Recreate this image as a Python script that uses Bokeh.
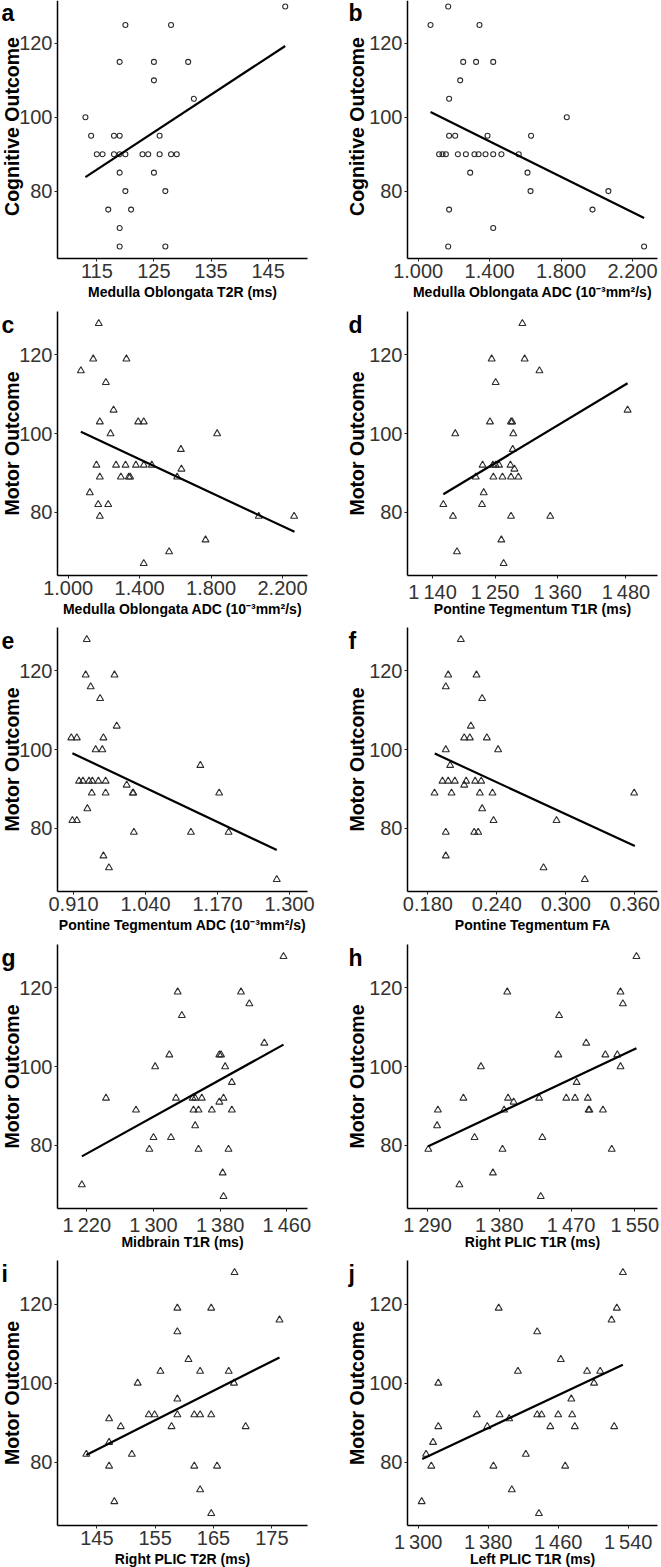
import math
from bokeh.plotting import figure
from bokeh.layouts import column, row
from bokeh.models import Range1d, FixedTicker, Label
from bokeh.embed import file_html
from bokeh.resources import INLINE

# ---------------- data ----------------
letters = ["a", "b", "c", "d", "e", "f", "g", "h", "i", "j"]

x_titles = [
    "Medulla Oblongata T2R (ms)",
    "Medulla Oblongata ADC (10\u207b\u00b3mm\u00b2/s)",
    "Medulla Oblongata ADC (10\u207b\u00b3mm\u00b2/s)",
    "Pontine Tegmentum T1R (ms)",
    "Pontine Tegmentum ADC (10\u207b\u00b3mm\u00b2/s)",
    "Pontine Tegmentum FA",
    "Midbrain T1R (ms)",
    "Right PLIC T1R (ms)",
    "Right PLIC T2R (ms)",
    "Left PLIC T1R (ms)",
]
y_titles = ["Cognitive Outcome", "Cognitive Outcome"] + ["Motor Outcome"] * 8

a_x = [148, 120, 128, 119, 125, 131, 125, 132, 113, 114, 118, 119, 126, 115, 116, 118,
       119, 120, 123, 124, 126, 128, 129, 119, 125, 120, 127, 117, 121, 119, 119, 127]
a_y = [130, 125, 125, 115, 115, 115, 110, 105, 100, 95, 95, 95, 95, 90, 90, 90,
       90, 90, 90, 90, 90, 90, 90, 85, 85, 80, 80, 75, 75, 70, 65, 65]

b_x = [1.168, 1.069, 1.343, 1.252, 1.324, 1.420, 1.235, 1.173, 1.832, 1.173, 1.207,
       1.388, 1.632, 1.117, 1.136, 1.155, 1.222, 1.267, 1.315, 1.338, 1.377, 1.420,
       1.466, 1.563, 1.291, 1.612, 1.629, 2.065, 1.173, 1.976, 1.420, 1.168, 2.265]
b_y = [130, 125, 125, 115, 115, 115, 110, 105, 100, 95, 95, 95, 95, 90, 90, 90, 90,
       90, 90, 90, 90, 90, 90, 90, 85, 85, 80, 80, 75, 75, 70, 65, 65]

motor_y = [128, 119, 119, 116, 113, 106, 103, 103, 103, 100, 100, 96, 92, 92, 92, 92,
           92, 92, 91, 89, 89, 89, 89, 89, 85, 82, 82, 79, 79, 79, 73, 70, 67]

c_x = [1.171, 1.140, 1.326, 1.071, 1.211, 1.254, 1.177, 1.392, 1.423, 1.237, 1.834,
       1.631, 1.158, 1.268, 1.321, 1.379, 1.423, 1.468, 1.634, 1.177, 1.295, 1.339,
       1.347, 1.610, 1.121, 1.168, 1.224, 1.177, 2.067, 2.265, 1.769, 1.565, 1.423]
c_y = motor_y

d_x = [1298, 1244, 1302, 1328, 1251, 1241, 1278, 1280, 1180, 1282, 1281, 1228, 1246,
       1251, 1257, 1277, 1284, 1216, 1247, 1263, 1278, 1291, 1230, 1159, 1227, 1176,
       1278, 1347, 1261, 1183, 1265, 1483]
d_y = [128, 119, 119, 116, 113, 103, 103, 103, 100, 100, 96, 92, 92, 92, 92, 92, 91,
       89, 89, 89, 89, 89, 85, 82, 82, 79, 79, 79, 73, 70, 67, 106]

e_x = [0.934, 0.932, 0.984, 0.941, 0.958, 0.988, 0.906, 0.916, 0.964, 0.950, 0.962,
       1.139, 0.920, 0.927, 0.938, 0.944, 0.955, 0.968, 1.006, 0.943, 0.968, 1.017,
       1.018, 1.173, 0.935, 0.908, 0.916, 1.019, 1.122, 1.190, 0.964, 0.974, 1.277]
e_y = motor_y

f_x = [0.2087, 0.1977, 0.2223, 0.1956, 0.2272, 0.2174, 0.2116, 0.2165, 0.2313, 0.1956,
       0.2411, 0.1994, 0.1927, 0.1977, 0.2035, 0.2133, 0.2211, 0.2264, 0.2116, 0.1858,
       0.2006, 0.2252, 0.2362, 0.3594, 0.2272, 0.2371, 0.2919, 0.1956, 0.2203, 0.2238,
       0.1956, 0.2806, 0.3165]
f_y = motor_y

g_x = [1456, 1329, 1405, 1415, 1334, 1433, 1319, 1379, 1381, 1302, 1386, 1394, 1243,
       1327, 1347, 1350, 1358, 1384, 1379, 1279, 1348, 1354, 1370, 1394, 1350, 1300,
       1321, 1295, 1354, 1390, 1383, 1214, 1384]
g_y = motor_y

h_x = [1552, 1390, 1532, 1535, 1455, 1489, 1454, 1513, 1528, 1357, 1532, 1477, 1335,
       1391, 1430, 1464, 1475, 1491, 1398, 1303, 1386, 1492, 1493, 1510, 1302, 1349,
       1434, 1291, 1384, 1521, 1372, 1330, 1432]
h_y = motor_y

i_x = [168.6, 158.8, 164.6, 176.3, 158.8, 160.7, 155.9, 162.7, 167.6, 152.0, 168.5,
       158.8, 153.9, 154.9, 158.8, 161.7, 162.7, 164.6, 147.1, 149.1, 157.8, 170.5,
       147.1, 143.2, 151.0, 147.1, 161.7, 165.6, 162.7, 148.0, 164.6]
i_y = [128, 119, 119, 116, 113, 106, 103, 103, 103, 100, 100, 96, 92, 92, 92, 92, 92,
       92, 91, 89, 89, 89, 85, 82, 82, 79, 79, 79, 73, 70, 67]

j_x = [1534, 1392, 1527, 1521, 1436, 1463, 1414, 1493, 1508, 1323, 1501, 1475, 1367,
       1393, 1436, 1441, 1460, 1476, 1404, 1323, 1379, 1451, 1479, 1524, 1317, 1309,
       1423, 1315, 1386, 1468, 1407, 1304, 1438]
j_y = motor_y

# fitted (regression) line end points
fit_x = [[113, 148], [1.069, 2.265], [1.071, 2.267], [1159, 1483], [0.908, 1.277],
         [0.186, 0.360], [1214, 1456], [1291, 1552], [143.2, 176.3], [1304.6, 1533.9]]
fit_y = [[83.8, 119.3], [101.4, 72.7], [100.5, 75.05], [84.6, 112.8], [99.1, 74.5],
         [99.0, 75.5], [77.2, 105.6], [79.8, 104.65], [81.8, 106.5], [80.8, 104.65]]

# x tick values and their labels
x_ticks = [[115, 125, 135, 145], [1.0, 1.4, 1.8, 2.2], [1.0, 1.4, 1.8, 2.2],
           [1140, 1250, 1360, 1480], [0.91, 1.04, 1.17, 1.30], [0.18, 0.24, 0.30, 0.36],
           [1220, 1300, 1380, 1460], [1290, 1380, 1470, 1550], [145, 155, 165, 175],
           [1300, 1380, 1460, 1540]]
SP = "\u2009"
x_tick_labels = [["115", "125", "135", "145"],
                 ["1.000", "1.400", "1.800", "2.200"],
                 ["1.000", "1.400", "1.800", "2.200"],
                 ["1" + SP + "140", "1" + SP + "250", "1" + SP + "360", "1" + SP + "480"],
                 ["0.910", "1.040", "1.170", "1.300"],
                 ["0.180", "0.240", "0.300", "0.360"],
                 ["1" + SP + "220", "1" + SP + "300", "1" + SP + "380", "1" + SP + "460"],
                 ["1" + SP + "290", "1" + SP + "380", "1" + SP + "470", "1" + SP + "550"],
                 ["145", "155", "165", "175"],
                 ["1" + SP + "300", "1" + SP + "380", "1" + SP + "460", "1" + SP + "540"]]
y_ticks = [80, 100, 120]
y_tick_labels = ["80", "100", "120"]

# extents of each plotting area (value at left/right edge of the axes)
x_ranges = [(108.11, 151.9), (0.940, 2.340), (0.940, 2.340), (1096.0, 1535.6),
            (0.8811, 1.3325), (0.1623, 0.3797), (1184.8, 1484.8), (1264.9, 1578.4),
            (138.26, 181.1), (1287.8, 1573.5)]
y_range_cog = (61.75, 133.25)
y_range_motor = (63.95, 131.05)

xs_all = [a_x, b_x, c_x, d_x, e_x, f_x, g_x, h_x, i_x, j_x]
ys_all = [a_y, b_y, c_y, d_y, e_y, f_y, g_y, h_y, i_y, j_y]

# ---------------- layout geometry (pixels) ----------------
FONT = "Liberation Sans"
col_w = [330, 331]
area_x = [(57, 307), (77, 327)]              # axes area inside each canvas
row_h = [304, 317, 316, 317, 313]
area_y = [(-6, 258), (7, 271), (6, 270), (7, 271), (6, 271)]  # top, bottom (from canvas top)
ytitle_dx = [46, 51]                          # y-title centre, px left of the axis


def extend(lo, hi, p_lo, p_hi, size):
    """values at canvas edges, given lo at pixel p_lo and hi at pixel p_hi (pixels grow with value)."""
    k = (p_hi - p_lo) / (hi - lo)
    return lo - p_lo / k, hi + (size - p_hi) / k


def make_panel(k):
    r, c = divmod(k, 2)
    W, H = col_w[c], row_h[r]
    ax0, ax1 = area_x[c]
    at, ab = area_y[r]
    x0, x1 = x_ranges[k]
    y0, y1 = y_range_cog if r == 0 else y_range_motor
    xs, xe = extend(x0, x1, ax0, ax1, W)
    ys, ye = extend(y0, y1, H - ab, H - at, H)

    p = figure(width=W, height=H, x_range=Range1d(xs, xe), y_range=Range1d(ys, ye),
               output_backend="svg", toolbar_location=None, title=None,
               min_border=0, min_border_left=0, min_border_right=0,
               min_border_top=0, min_border_bottom=0)
    p.outline_line_color = None
    p.background_fill_color = "white"
    p.border_fill_color = "white"
    p.xgrid.visible = False
    p.ygrid.visible = False

    xa, ya = p.xaxis[0], p.yaxis[0]
    xa.fixed_location = y0
    xa.bounds = (x0, x1)
    ya.fixed_location = x0
    ya.bounds = (y0, y1)
    xa.ticker = FixedTicker(ticks=x_ticks[k])
    xa.major_label_overrides = dict(zip(x_ticks[k], x_tick_labels[k]))
    ya.ticker = FixedTicker(ticks=y_ticks)
    ya.major_label_overrides = dict(zip(y_ticks, y_tick_labels))
    for ax in (xa, ya):
        ax.axis_line_color = "black"
        ax.axis_line_width = 1.5
        ax.major_tick_line_color = "#222222"
        ax.major_tick_line_width = 1
        ax.major_tick_out = 3
        ax.major_tick_in = 0
        ax.minor_tick_line_color = None
        ax.major_label_text_font = FONT
        ax.major_label_text_font_size = "20px"
        ax.major_label_text_color = "#333333"
        ax.major_label_standoff = 2

    marker = "circle" if r == 0 else "triangle"
    size = 5 if r == 0 else 7
    p.scatter(xs_all[k], ys_all[k], marker=marker, size=size, fill_color=None,
              line_color="#2b2b2b", line_width=1.1)
    p.line(fit_x[k], fit_y[k], line_color="black", line_width=2.2)

    # panel letter (centre position)
    letter_mid = 12 if r == 0 else at + 13
    p.add_layout(Label(x=1 if c == 0 else 18, y=H - letter_mid,
                       x_units="screen", y_units="screen",
                       text=letters[k], text_font=FONT, text_font_size="23px",
                       text_font_style="bold", text_color="black",
                       text_baseline="middle", text_align="left"))
    # y-axis title (rotated)
    p.add_layout(Label(x=ax0 - ytitle_dx[c], y=H - (at + ab) / 2,
                       x_units="screen", y_units="screen",
                       text=y_titles[k], text_font=FONT, text_font_size="19.5px",
                       text_font_style="bold", text_color="black", angle=math.pi / 2,
                       text_baseline="middle", text_align="center"))
    # x-axis title
    p.add_layout(Label(x=(ax0 + ax1) / 2, y=H - (ab + 33), x_units="screen", y_units="screen",
                       text=x_titles[k], text_font=FONT, text_font_size="14px",
                       text_font_style="bold", text_color="black",
                       text_baseline="middle", text_align="center"))
    return p


panels = [make_panel(k) for k in range(10)]
layout = column(*[row(panels[2 * r], panels[2 * r + 1]) for r in range(5)])

open("out.html", "w").write(file_html(layout, INLINE))
